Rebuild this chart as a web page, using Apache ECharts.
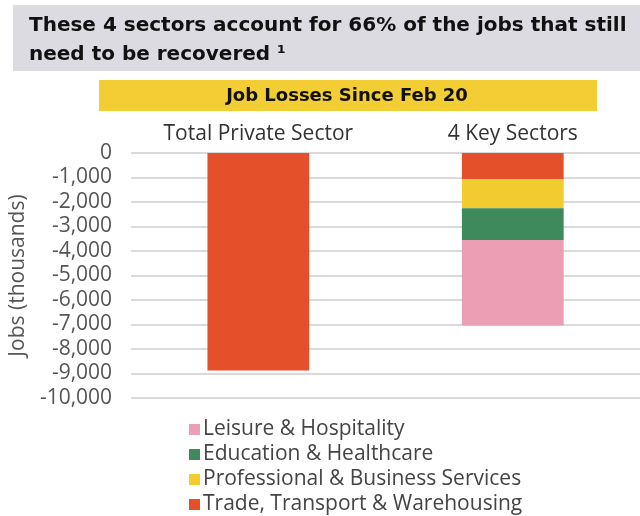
<!DOCTYPE html>
<html>
<head>
<meta charset="utf-8">
<script src="https://cdn.jsdelivr.net/npm/echarts@6/dist/echarts.min.js"></script>
<style>
  html, body { margin: 0; padding: 0; background: #ffffff; }
  #chart { width: 640px; height: 516px; }
</style>
</head>
<body>
<div id="chart"></div>
<script>
// Job losses since Feb 2020, in thousands
const categories = ['Total Private Sector', '4 Key Sectors'];
const totalPrivate = [-8880, null];
const tradeTransport = [null, -1060];
const professionalBusiness = [null, -1200];
const educationHealth = [null, -1290];
const leisureHospitality = [null, -3490];
const yTicks = [0, -1000, -2000, -3000, -4000, -5000, -6000, -7000, -8000, -9000, -10000];
const legendOrder = ['Leisure & Hospitality', 'Education & Healthcare', 'Professional & Business Services', 'Trade, Transport & Warehousing'];

const FONT = '"Open Sans", sans-serif';
const BOLD_FONT = '"DejaVu Sans", sans-serif';
const colors = {
  trade: '#E4502A',
  prof: '#F2CB30',
  edu: '#3F8A5C',
  leisure: '#EC9EB4'
};

const chart = echarts.init(document.getElementById('chart'), null, { renderer: 'canvas' });

const bar = (name, data, color) => ({
  name, type: 'bar', stack: 'jobs', data, barWidth: '40%',
  itemStyle: { color }, emphasis: { disabled: true }
});

chart.setOption({
  animation: false,
  textStyle: { fontFamily: FONT },
  grid: { left: 129, right: 0, top: 153, bottom: 118, containLabel: false },
  graphic: [
    { type: 'rect', left: 13, top: 5, shape: { width: 627, height: 66 }, style: { fill: '#DBDBE1' } },
    { type: 'text', left: 29, top: 11, style: {
        text: 'These 4 sectors account for 66% of the jobs that still\nneed to be recovered ¹',
        font: 'bold 20px ' + BOLD_FONT, fill: '#111', lineHeight: 29 } },
    { type: 'rect', left: 99, top: 80, shape: { width: 498, height: 31 }, style: { fill: '#F2CD33' } },
    { type: 'text', x: 347, y: 96, style: {
        text: 'Job Losses Since Feb 20', font: 'bold 18px ' + BOLD_FONT, fill: '#111',
        align: 'center', verticalAlign: 'middle' } }
  ],
  legend: {
    orient: 'vertical', left: 184, top: 414, height: 110,
    data: legendOrder,
    icon: 'rect', itemWidth: 11, itemHeight: 11, itemGap: 4,
    textStyle: { fontSize: 21, lineHeight: 20, color: '#444', fontFamily: FONT, padding: [0, 0, 0, -2] },
    selectedMode: false
  },
  xAxis: {
    type: 'category', data: categories, position: 'top',
    axisLine: { show: false }, axisTick: { show: false },
    axisLabel: { fontSize: 21, color: '#333', margin: 8, fontFamily: FONT }
  },
  yAxis: {
    type: 'value', min: -10000, max: 0, interval: 1000,
    name: 'Jobs (thousands)', nameLocation: 'middle', nameRotate: 90, nameGap: 95,
    nameTextStyle: { fontSize: 21, color: '#555', fontFamily: FONT },
    axisLabel: {
      fontSize: 21, color: '#555', margin: 19, fontFamily: FONT,
      formatter: v => yTicks.includes(v) ? (v === 0 ? '0' : '-' + Math.abs(v).toLocaleString('en-US')) : ''
    },
    splitLine: { lineStyle: { color: '#DADADA', width: 2 } },
    axisLine: { show: false }, axisTick: { show: false }
  },
  series: [
    bar('Total Private Sector', totalPrivate, colors.trade),
    bar('Trade, Transport & Warehousing', tradeTransport, colors.trade),
    bar('Professional & Business Services', professionalBusiness, colors.prof),
    bar('Education & Healthcare', educationHealth, colors.edu),
    bar('Leisure & Hospitality', leisureHospitality, colors.leisure)
  ]
});
</script>
</body>
</html>
